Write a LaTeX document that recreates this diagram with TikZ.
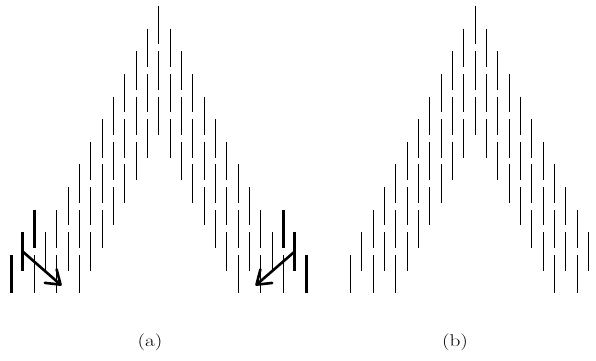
\documentclass[tikz,border=0pt]{standalone}
\usetikzlibrary{arrows.meta}
\begin{document}
\begin{tikzpicture}[x=1pt,y=-1pt,
  seg/.style={line width=0.9pt},
  thickseg/.style={line width=3pt},
  arr/.style={line width=2.6pt,-{Straight Barb[length=13pt,width=18pt,line width=2.6pt,round]}},
  lab/.style={font=\fontsize{17}{20}\selectfont,inner sep=0pt}]
\useasboundingbox (0,0) rectangle (596,360);
\def\dx{11.333}
\def\dy{22.64}
\def\len{38.3}
\def\ytop{6}
\foreach \cx in {158.7,475} {
  \foreach \c in {-11,...,11} {
    \pgfmathtruncatemacro\ac{abs(\c)}
    \foreach \k in {0,1,2} {
      \pgfmathtruncatemacro\lev{\ac+2*\k}
      \ifnum\lev<12
        \draw[seg] ({\cx+\c*\dx},{\ytop+\lev*\dy}) -- ++(0,\len);
      \fi
    }
  }
}
% thick outer segments of panel (a)
\foreach \c/\lev in {-13/11,-12/10,-11/9,11/9,12/10,13/11} {
  \draw[thickseg] ({158.7+\c*\dx},{\ytop+\lev*\dy}) -- ++(0,\len);
}
\coordinate (ls) at ({158.7-12*\dx},{\ytop+10*\dy+\len/2});
\coordinate (le) at (61.5,285.5);
\coordinate (rs) at ({158.7+12*\dx},{\ytop+10*\dy+\len/2});
\coordinate (re) at (255.5,285.5);
\draw[arr] (ls) -- (le);
\draw[arr] (rs) -- (re);
\node[lab] (la) at (150,342.5) {\scalebox{1.25}[1]{(a)}};
\node[lab] (lb) at (455,342.5) {\scalebox{1.25}[1]{(b)}};
\end{tikzpicture}
\end{document}
